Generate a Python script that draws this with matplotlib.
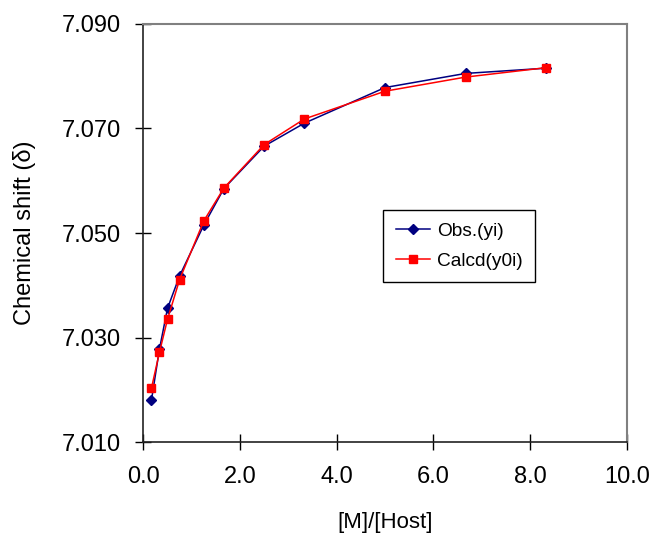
import numpy as np
import matplotlib.pyplot as plt
from matplotlib.ticker import FormatStrFormatter

plt.rcParams['font.family'] = ['Liberation Sans', 'DejaVu Sans']

# titration data: ratio [M]/[Host] vs chemical shift
ratio = [0.167, 0.333, 0.5, 0.75, 1.25, 1.667, 2.5, 3.333, 5.0, 6.667, 8.333]
obs = [7.0180, 7.0278, 7.0356, 7.0418, 7.0515, 7.0585, 7.0666, 7.0710, 7.0778, 7.0805, 7.0815]
calcd = [7.0203, 7.0272, 7.0335, 7.0411, 7.0523, 7.0586, 7.0669, 7.0718, 7.0771, 7.0798, 7.0816]

fig = plt.figure(figsize=(6.56, 5.34), dpi=100)
ax = fig.add_axes([0.2185, 0.1717, 0.7369, 0.7839])

ax.plot(ratio, obs, color='#000080', marker='D', markersize=5.5, linewidth=1.1,
        label='Obs.(yi)')
ax.plot(ratio, calcd, color='#FF0000', marker='s', markersize=5.8, linewidth=1.1,
        label='Calcd(y0i)')

ax.set_xlim(0, 10)
ax.set_ylim(7.010, 7.090)
ax.set_xticks(np.arange(0, 10.1, 2))
ax.set_yticks(np.arange(7.010, 7.0901, 0.020))
ax.xaxis.set_major_formatter(FormatStrFormatter('%.1f'))
ax.yaxis.set_major_formatter(FormatStrFormatter('%.3f'))
ax.tick_params(direction='inout', length=12, width=1, labelsize=17)
ax.tick_params(axis='x', pad=11)
ax.tick_params(axis='y', pad=10)

for side in ['top', 'right']:
    ax.spines[side].set_color('#808080')
    ax.spines[side].set_linewidth(1.5)
for side in ['left', 'bottom']:
    ax.spines[side].set_color('#222222')
    ax.spines[side].set_linewidth(1.2)

ax.set_xlabel('[M]/[Host]', fontsize=16)
ax.set_ylabel('Chemical shift (δ)', fontsize=17)
ax.xaxis.set_label_coords(0.5, -0.167)
ax.yaxis.set_label_coords(-0.222, 0.5)

leg = ax.legend(loc='upper left', bbox_to_anchor=(0.496, 0.555), fontsize=13.8,
                fancybox=False, framealpha=1, edgecolor='black', borderaxespad=0,
                handlelength=1.8, handletextpad=0.36, borderpad=0.65,
                labelspacing=0.65)
leg.get_frame().set_linewidth(1.0)

fig.savefig('out.png', dpi=100)
